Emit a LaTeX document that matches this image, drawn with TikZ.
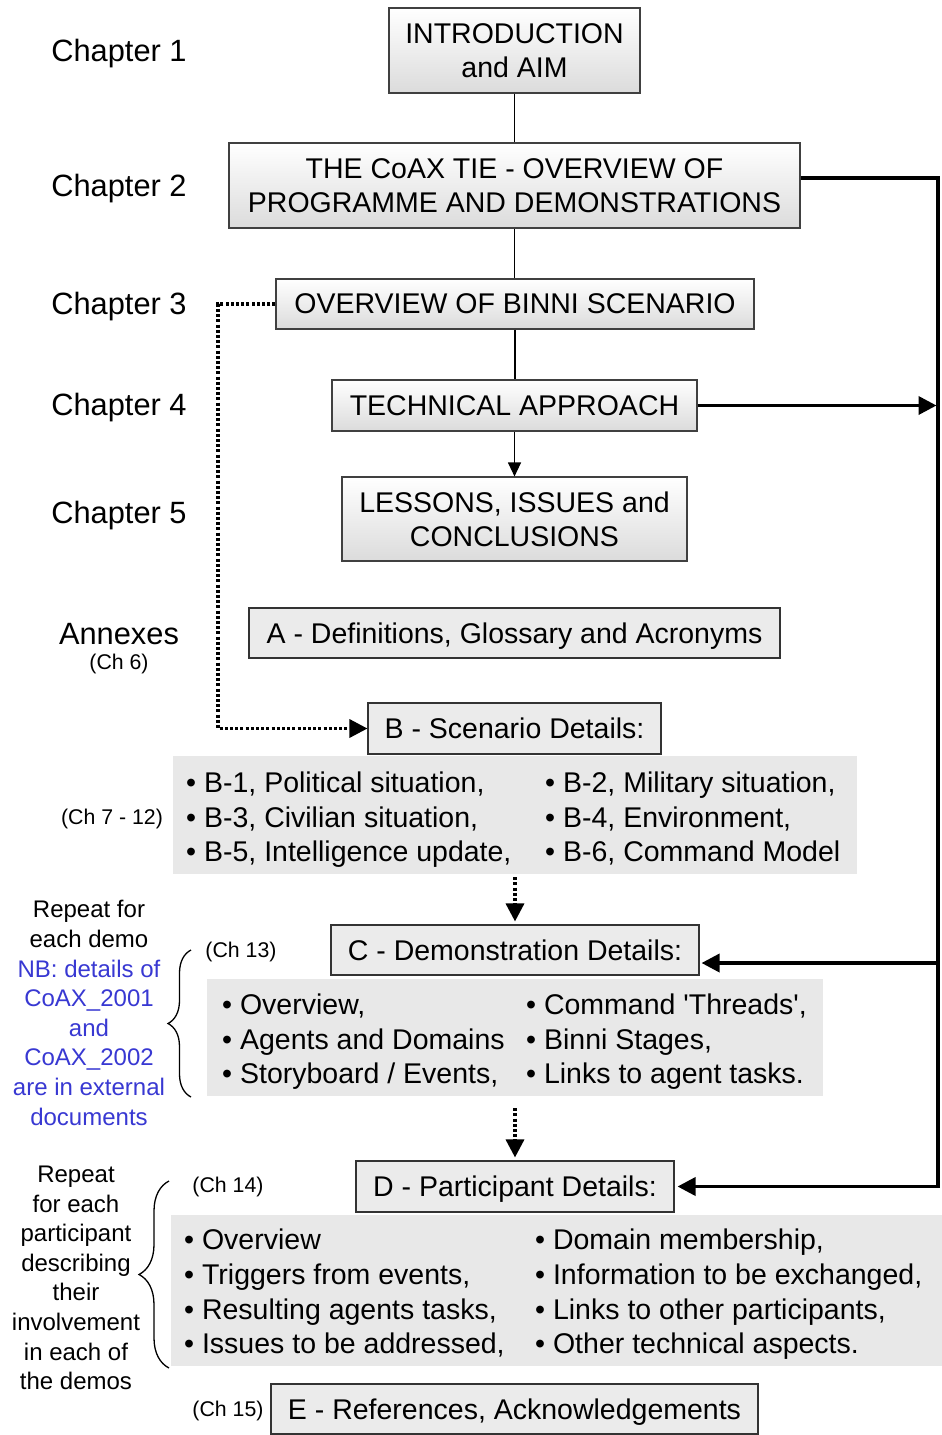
\documentclass[tikz,border=0pt]{standalone}
\usepackage{fontspec}
\setmainfont{Liberation Sans}
\usetikzlibrary{arrows.meta,decorations.pathreplacing}
\definecolor{noteblue}{RGB}{56,56,210}
\definecolor{panelgray}{RGB}{232,232,232}
\definecolor{annexgray}{RGB}{235,235,235}
\begin{document}
\begin{tikzpicture}[x=1pt,y=-1pt,
  bigfont/.style={font=\fontsize{28.5}{34}\selectfont},
  chapfont/.style={font=\fontsize{30.8}{34}\selectfont},
  smallfont/.style={font=\fontsize{21.3}{24}\selectfont},
  notefont/.style={font=\fontsize{24}{29.6}\selectfont},
  chapbox/.style={draw=black!75, line width=1.1pt, top color=white, bottom color=black!14,
    inner sep=0pt, align=center, bigfont},
  annexbox/.style={draw=black!80, line width=1.1pt, fill=annexgray, inner sep=0pt, bigfont,
    text height=20.4pt, text depth=0pt},
  listpanel/.style={fill=panelgray, draw=none, inner sep=0pt},
  listitem/.style={anchor=base west, inner sep=0pt, bigfont},
  chaplabel/.style={anchor=base, inner sep=0pt, chapfont},
  chref/.style={anchor=base, inner sep=0pt, smallfont},
  thinline/.style={draw=black, line width=1.1pt},
  bigtip/.style={-{Triangle[length=18pt,width=18pt]}},
  smalltip/.style={-{Triangle[length=14pt,width=13pt]}},
  dotline/.style={draw=black, line width=3.4pt, dash pattern=on 3pt off 2.2pt},
  rail/.style={draw=black, line width=3.6pt},
  bracket/.style={draw=black, line width=1.3pt, decorate},
]
\useasboundingbox (0,0) rectangle (942,1435);

% chapter labels
\node[chaplabel] (ch1) at (119,61) {Chapter 1};
\node[chaplabel] (ch2) at (119,196) {Chapter 2};
\node[chaplabel] (ch3) at (119,314) {Chapter 3};
\node[chaplabel] (ch4) at (119,415) {Chapter 4};
\node[chaplabel] (ch5) at (119,523) {Chapter 5};
\node[chaplabel] (annexes) at (119,644) {Annexes};
\node[chref] (ch6) at (119,669) {(Ch 6)};

% main chapter boxes
\node[chapbox, minimum width=251pt, minimum height=85pt] (intro) at (514.5,50.5) {INTRODUCTION\\and AIM};
\node[chapbox, minimum width=571pt, minimum height=85pt] (coax) at (514.5,185.5) {THE CoAX TIE - OVERVIEW OF\\PROGRAMME AND DEMONSTRATIONS};
\node[chapbox, minimum width=478pt, minimum height=50pt] (binni) at (515,304) {OVERVIEW OF BINNI SCENARIO};
\node[chapbox, minimum width=365pt, minimum height=51pt] (tech) at (514.5,405.5) {TECHNICAL APPROACH};
\node[chapbox, minimum width=345pt, minimum height=84pt] (lessons) at (514.5,519) {LESSONS, ISSUES and\\CONCLUSIONS};

% annex boxes
\node[annexbox, minimum width=531pt, minimum height=50pt] (annexA) at (514.5,633) {A - Definitions, Glossary and Acronyms};
\node[annexbox, minimum width=293pt, minimum height=51pt] (scen) at (514.5,728.5) {B - Scenario Details:};
\node[annexbox, minimum width=368pt, minimum height=50pt] (demo) at (515,950) {C - Demonstration Details:};
\node[annexbox, minimum width=318pt, minimum height=51pt] (part) at (515,1186.5) {D - Participant Details:};
\node[annexbox, minimum width=487pt, minimum height=50pt] (refs) at (514.5,1409) {E - References, Acknowledgements};

% detail panels
\node[listpanel, minimum width=684pt, minimum height=118pt] (scenpanel) at (515,815) {};
\node[listpanel, minimum width=616pt, minimum height=117pt] (demopanel) at (515,1037.5) {};
\node[listpanel, minimum width=771pt, minimum height=151pt] (partpanel) at (556.5,1290.5) {};

% scenario details
\node[listitem] (b1) at (186,792) {• B-1, Political situation,};
\node[listitem] (b3) at (186,827) {• B-3, Civilian situation,};
\node[listitem] (b5) at (186,861) {• B-5, Intelligence update,};
\node[listitem] (b2) at (545,792) {• B-2, Military situation,};
\node[listitem] (b4) at (545,827) {• B-4, Environment,};
\node[listitem] (b6) at (545,861) {• B-6, Command Model};
\node[chref] (ch7) at (112,824) {(Ch 7 - 12)};

% demonstration details
\node[listitem] (c1) at (222,1014) {• Overview,};
\node[listitem] (c2) at (222,1049) {• Agents and Domains};
\node[listitem] (c3) at (222,1083) {• Storyboard / Events,};
\node[listitem] (c4) at (526,1014) {• Command \textquotesingle Threads\textquotesingle,};
\node[listitem] (c5) at (526,1049) {• Binni Stages,};
\node[listitem] (c6) at (526,1083) {• Links to agent tasks.};
\node[chref] (ch13) at (241,957) {(Ch 13)};

% participant details
\node[listitem] (d1) at (184,1249) {• Overview};
\node[listitem] (d2) at (184,1284) {• Triggers from events,};
\node[listitem] (d3) at (184,1319) {• Resulting agents tasks,};
\node[listitem] (d4) at (184,1353) {• Issues to be addressed,};
\node[listitem] (d5) at (535,1249) {• Domain membership,};
\node[listitem] (d6) at (535,1284) {• Information to be exchanged,};
\node[listitem] (d7) at (535,1319) {• Links to other participants,};
\node[listitem] (d8) at (535,1353) {• Other technical aspects.};
\node[chref] (ch14) at (228,1192) {(Ch 14)};
\node[chref] (ch15) at (228,1416) {(Ch 15)};

% side notes
\node[notefont, align=center, inner sep=0pt] (demonote) at (89,1013)
  {Repeat for\\each demo\\\textcolor{noteblue}{NB: details of}\\\textcolor{noteblue}{CoAX\_2001}\\\textcolor{noteblue}{and}\\\textcolor{noteblue}{CoAX\_2002}\\\textcolor{noteblue}{are in external}\\\textcolor{noteblue}{documents}};
\node[notefont, align=center, inner sep=0pt] (partnote) at (76,1278)
  {Repeat\\for each\\participant\\describing\\their\\involvement\\in each of\\the demos};

% braces
\coordinate (cbtop) at (191,950);
\coordinate (cbbot) at (191,1097);
\coordinate (dbtop) at (169,1181);
\coordinate (dbbot) at (169,1368);
\draw[bracket, decoration={brace, amplitude=23pt}] (cbbot) -- (cbtop);
\draw[bracket, decoration={brace, amplitude=30pt}] (dbbot) -- (dbtop);

% chapter connectors
\draw[thinline] (intro.south) -- (intro.south |- coax.north);
\draw[thinline] (coax.south) -- (coax.south |- binni.north);
\draw[thinline] (binni.south) -- (binni.south |- tech.north);
\draw[thinline, smalltip] (tech.south) -- (tech.south |- lessons.north);

% dotted links
\coordinate (dotcorner) at (218,304);
\draw[dotline, bigtip] (binni.west) -- (dotcorner) |- (scen.west);
\draw[dotline, bigtip, shorten >=3pt] ([yshift=-3pt]scenpanel.south) -- (demo.north);
\draw[dotline, bigtip, shorten >=3pt] ([yshift=-12pt]demopanel.south) -- (part.north);

% right-hand rail
\coordinate (railtop) at (938,178);
\coordinate (railbot) at (938,1186.5);
\draw[rail, bigtip, shorten >=3pt] ([yshift=7.5pt]coax.east) -- (railtop) -- (railbot) -- (part.east);
\draw[rail, bigtip, shorten >=1.5pt] (tech.east) -- (tech.east -| railtop);
\draw[rail, bigtip, shorten >=2pt] ([yshift=-13pt]demo.east -| railtop) -- ([yshift=-13pt]demo.east);
\end{tikzpicture}
\end{document}
